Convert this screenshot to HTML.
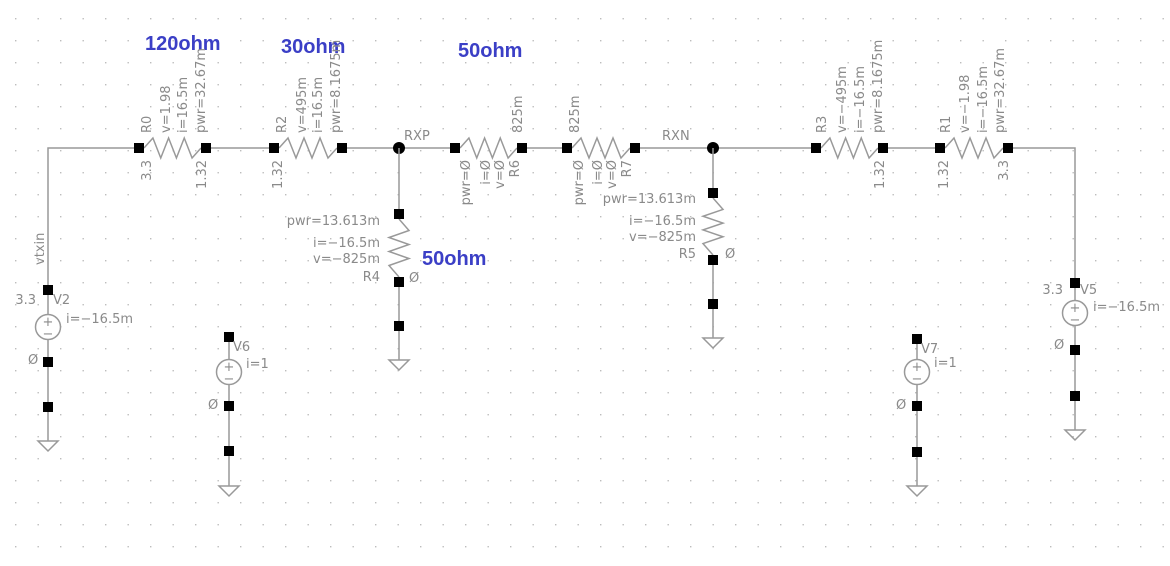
<!DOCTYPE html>
<html><head><meta charset="utf-8"><style>
html,body{margin:0;padding:0;background:#fff;}
svg{display:block;}
text{font-family:"DejaVu Sans","Liberation Sans",sans-serif;font-size:13px;fill:#8a8a8a;}
.blue{font-family:"Liberation Sans",sans-serif;font-weight:bold;font-size:20px;fill:#3b3fc6;}
</style></head><body>
<svg id="s" width="1170" height="566" xmlns="http://www.w3.org/2000/svg">
<defs><pattern id="g" x="15" y="18" width="22.5" height="22" patternUnits="userSpaceOnUse"><rect width="1.4" height="1.4" fill="#bdbdbd"/></pattern></defs>
<rect width="1170" height="566" fill="url(#g)"/>
</svg>
<script>
const S=document.getElementById('s');const NS='http://www.w3.org/2000/svg';
function el(t,a,name){const e=document.createElementNS(NS,t);for(const k in a)e.setAttribute(k,a[k]);


S.appendChild(e);return e;}
function wire(pts,n){el('polyline',{points:pts,fill:'none',stroke:'#999','stroke-width':1.5},n||'wire');}
function pin(x,y){el('rect',{x:x-5,y:y-5,width:10,height:10,fill:'#000'},'pin');}
function dot(x,y,n){el('circle',{cx:x,cy:y,r:6,fill:'#000'},n);}
function txt(x,y,s,n,rot,anchor,cls){const e=el('text',{x:x,y:y},n);e.textContent=s;
 if(rot)e.setAttribute('transform','rotate(-90 '+x+' '+y+')');if(anchor)e.setAttribute('text-anchor',anchor);if(cls)e.setAttribute('class',cls);return e;}
function hres(x1,x2,y,n){let p=[x1+' '+y];const a=x1+5,b=x2-5,w=(b-a)/6;
 for(let i=0;i<6;i++){p.push((a+w*i+w/2)+' '+(y+(i%2?10:-10)));}p.push(x2+' '+y);wire(p.join(' '),n);}
function vres(x,y1,y2,n){let p=[x+' '+y1];const a=y1+8,b=y2-8,w=(b-a)/6;
 for(let i=0;i<6;i++){p.push((x+(i%2?-10:10))+' '+(a+w*i+w/2));}p.push(x+' '+y2);wire(p.join(' '),n);}
function gnd(x,y,n){wire(x+','+y+' '+(x-10)+','+y+' '+x+','+(y+10)+' '+(x+10)+','+y+' '+x+','+y,n);}
function vsrc(x,yt,cy,y1,y2,yg,n){wire(x+','+yt+' '+x+','+yg,n+'-wire');pin(x,yt);
 el('circle',{cx:x,cy:cy,r:12.5,fill:'#fff',stroke:'#999','stroke-width':1.5},n);
 txt(x,cy-1,'+',n+'-plus',0,'middle');txt(x,cy+11,'−',n+'-minus',0,'middle');pin(x,y1);pin(x,y2);gnd(x,yg,n+'-ground');}

wire('48,290 48,148 1075,148 1075,283','main-wire');
const R=[['R0',139,206],['R2',274,342],['R6',455,522],['R7',567,635],['R3',816,883],['R1',940,1008]];
R.forEach(r=>{el('line',{x1:r[1],y1:148,x2:r[2],y2:148,stroke:'#fff','stroke-width':3},'gap');hres(r[1]+5,r[2]-5,148,'resistor-'+r[0].toLowerCase());pin(r[1],148);pin(r[2],148);});
dot(399,148,'node-rxp');dot(713,148,'node-rxn');
wire('399,148 399,360','r4-wire');el('line',{x1:399,y1:219,x2:399,y2:277,stroke:'#fff','stroke-width':3},'gap');
vres(399,219,277,'resistor-r4');pin(399,214);pin(399,282);pin(399,326);gnd(399,360,'ground-r4');
wire('713,148 713,338','r5-wire');el('line',{x1:713,y1:198,x2:713,y2:255,stroke:'#fff','stroke-width':3},'gap');
vres(713,198,255,'resistor-r5');pin(713,193);pin(713,260);pin(713,304);gnd(713,338,'ground-r5');
vsrc(48,290,327,362,407,441,'source-v2');
vsrc(229,337,372,406,451,486,'source-v6');
vsrc(917,339,372,406,452,486,'source-v7');
vsrc(1075,283,313,350,396,430,'source-v5');

txt(145,50,'120ohm','label-120ohm',0,0,'blue');
txt(281,53,'30ohm','label-30ohm',0,0,'blue');
txt(458,57,'50ohm','label-50ohm-top',0,0,'blue');
txt(422,265,'50ohm','label-50ohm-r4',0,0,'blue');
const up=[[151,'R0'],[170,'v=1.98'],[187,'i=16.5m'],[205,'pwr=32.67m'],
 [286,'R2'],[306,'v=495m'],[322,'i=16.5m'],[340,'pwr=8.1675m'],
 [826,'R3'],[846,'v=−495m'],[864,'i=−16.5m'],[882,'pwr=8.1675m'],
 [950,'R1'],[969,'v=−1.98'],[987,'i=−16.5m'],[1004,'pwr=32.67m'],
 [522,'825m'],[579,'825m']];
up.forEach(u=>txt(u[0],133,u[1],'label-'+u[1].replace(/[^a-z0-9]/gi,''),1,'start'));
const dn=[[151,'3.3'],[206,'1.32'],[282,'1.32'],[884,'1.32'],[948,'1.32'],[1008,'3.3'],
 [470,'pwr=Ø'],[490,'i=Ø'],[504,'v=Ø'],[519,'R6'],[583,'pwr=Ø'],[602,'i=Ø'],[616,'v=Ø'],[631,'R7']];
dn.forEach(u=>txt(u[0],160,u[1],'label-'+u[1].replace(/[^a-z0-9]/gi,''),1,'end'));
txt(404,140,'RXP','label-rxp');txt(662,140,'RXN','label-rxn');
txt(380,225,'pwr=13.613m','r4-pwr',0,'end');txt(380,247,'i=−16.5m','r4-i',0,'end');
txt(380,263,'v=−825m','r4-v',0,'end');txt(380,281,'R4','r4-name',0,'end');txt(409,282,'Ø','r4-node');
txt(696,203,'pwr=13.613m','r5-pwr',0,'end');txt(696,225,'i=−16.5m','r5-i',0,'end');
txt(696,241,'v=−825m','r5-v',0,'end');txt(696,258,'R5','r5-name',0,'end');txt(725,258,'Ø','r5-node');
txt(44,265,'vtxin','label-vtxin',1,'start');
txt(36,304,'3.3','v2-value',0,'end');txt(53,304,'V2','v2-name');txt(66,323,'i=−16.5m','v2-i');txt(28,364,'Ø','v2-node');
txt(233,351,'V6','v6-name');txt(246,368,'i=1','v6-i');txt(208,409,'Ø','v6-node');
txt(921,353,'V7','v7-name');txt(934,367,'i=1','v7-i');txt(896,409,'Ø','v7-node');
txt(1063,294,'3.3','v5-value',0,'end');txt(1080,294,'V5','v5-name');txt(1093,311,'i=−16.5m','v5-i');txt(1054,349,'Ø','v5-node');
</script>
</body></html>
